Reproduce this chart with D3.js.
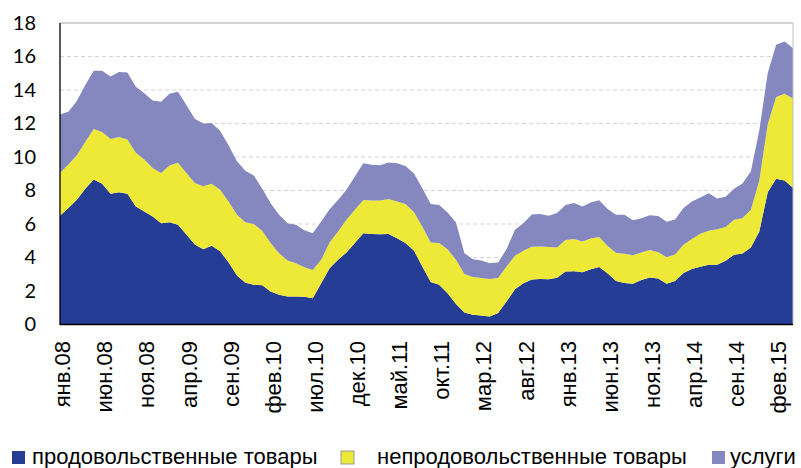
<!DOCTYPE html>
<html>
<head>
<meta charset="utf-8">
<script src="https://cdn.jsdelivr.net/npm/d3@7"></script>
<style>
  body { margin: 0; background: #fff; }
</style>
</head>
<body>
<svg id="chart" width="801" height="468"></svg>
<script>
// monthly, янв.08 .. апр.15 (percent, contribution by group)
const food = [
  6.50, 6.96, 7.45, 8.10, 8.65, 8.40, 7.80, 7.90, 7.80, 7.05, 6.75, 6.45,
  6.05, 6.10, 5.95, 5.37, 4.78, 4.50, 4.70, 4.37, 3.72, 2.93, 2.50, 2.38,
  2.34, 1.97, 1.77, 1.67, 1.67, 1.65, 1.57, 2.47, 3.36, 3.86, 4.30, 4.86,
  5.45, 5.41, 5.39, 5.41, 5.15, 4.86, 4.42, 3.46, 2.54, 2.37, 1.87, 1.23,
  0.72, 0.58, 0.54, 0.48, 0.68, 1.37, 2.11, 2.47, 2.69, 2.71, 2.70, 2.79,
  3.16, 3.18, 3.12, 3.30, 3.43, 3.05, 2.60, 2.48, 2.44, 2.66, 2.80, 2.74,
  2.44, 2.60, 3.08, 3.32, 3.45, 3.56, 3.56, 3.80, 4.16, 4.24, 4.60, 5.55,
  7.90, 8.70, 8.60, 8.17
];
const nonfood = [
  2.55, 2.59, 2.65, 2.80, 3.02, 3.10, 3.28, 3.30, 3.25, 3.20, 3.10, 2.90,
  3.00, 3.40, 3.70, 3.68, 3.67, 3.75, 3.70, 3.68, 3.63, 3.62, 3.60, 3.62,
  3.26, 2.89, 2.49, 2.15, 1.99, 1.77, 1.69, 1.39, 1.54, 1.69, 1.95, 1.99,
  1.99, 1.99, 2.01, 2.09, 2.19, 2.34, 2.29, 2.39, 2.36, 2.49, 2.63, 2.63,
  2.30, 2.25, 2.23, 2.23, 2.09, 2.09, 1.99, 1.93, 1.95, 1.95, 1.93, 1.81,
  1.88, 1.92, 1.83, 1.83, 1.80, 1.63, 1.67, 1.74, 1.70, 1.64, 1.65, 1.58,
  1.58, 1.58, 1.68, 1.78, 1.97, 2.04, 2.12, 2.02, 2.09, 2.11, 2.25, 3.05,
  4.05, 4.88, 5.17, 5.33
];
const services = [
  3.48, 3.15, 3.25, 3.40, 3.48, 3.65, 3.72, 3.87, 4.00, 3.95, 3.95, 4.03,
  4.25, 4.28, 4.25, 4.05, 3.83, 3.75, 3.63, 3.51, 3.35, 3.19, 3.08, 2.90,
  2.50, 2.38, 2.29, 2.23, 2.29, 2.20, 2.19, 2.29, 1.98, 1.89, 1.79, 1.99,
  2.19, 2.13, 2.11, 2.17, 2.29, 2.27, 2.32, 2.29, 2.30, 2.28, 2.19, 2.23,
  1.24, 1.07, 1.05, 0.95, 0.93, 1.04, 1.55, 1.65, 1.93, 1.93, 1.86, 2.05,
  2.10, 2.16, 2.09, 2.16, 2.19, 2.22, 2.28, 2.33, 2.09, 2.05, 2.07, 2.16,
  2.11, 2.09, 2.19, 2.24, 2.16, 2.24, 1.84, 1.80, 1.85, 2.07, 2.28, 3.00,
  3.05, 3.12, 3.13, 3.00
];
// one label every 5 months
const tickLabels = [
  'янв.08', 'июн.08', 'ноя.08', 'апр.09', 'сен.09', 'фев.10', 'июл.10',
  'дек.10', 'май.11', 'окт.11', 'мар.12', 'авг.12', 'янв.13', 'июн.13',
  'ноя.13', 'апр.14', 'сен.14', 'фев.15'
];
const tickStep = 5;
const yTicks = [0, 2, 4, 6, 8, 10, 12, 14, 16, 18];
const seriesNames = ['продовольственные товары', 'непродовольственные товары', 'услуги'];
const keys = ['food', 'nonfood', 'services'];
const colors = ['#253d94', '#eee936', '#8488bf'];

const svg = d3.select('#chart');

const plotLeft = 60, plotRight = 793, plotTop = 23, plotBottom = 324.5;

const rows = food.map((d, i) => ({
  i: i,
  food: d,
  nonfood: nonfood[i],
  services: services[i]
}));

const x = d3.scaleLinear().domain([0, rows.length - 1]).range([plotLeft, plotRight]);
const y = d3.scaleLinear().domain([0, 18]).range([plotBottom, plotTop]);

// dashed grid
svg.append('g')
  .selectAll('line')
  .data(yTicks.filter(t => t > 0 && t < 18))
  .enter().append('line')
    .attr('x1', plotLeft).attr('x2', plotRight)
    .attr('y1', d => y(d)).attr('y2', d => y(d))
    .attr('stroke', '#d4d4d4')
    .attr('stroke-width', 1)
    .attr('stroke-dasharray', '4,3');

let stacked = d3.stack().keys(keys)(rows);

let area = d3.area()
  .x(d => x(d.data.i))
  .y0(d => y(d[0]))
  .y1(d => y(d[1]));

svg.append('g')
  .selectAll('path')
  .data(stacked)
  .enter().append('path')
    .attr('d', area)
    .attr('fill', (d, i) => colors[i]);

// plot frame
svg.append('line')
  .attr('x1', plotLeft).attr('x2', plotRight)
  .attr('y1', y(18)).attr('y2', y(18))
  .attr('stroke', '#a6a6a6').attr('stroke-width', 1);
svg.append('line')
  .attr('x1', plotRight).attr('x2', plotRight)
  .attr('y1', y(18)).attr('y2', y(0))
  .attr('stroke', '#bfbfbf').attr('stroke-width', 1);
svg.append('line')
  .attr('x1', plotLeft).attr('x2', plotLeft)
  .attr('y1', y(18)).attr('y2', y(0) + 0.5)
  .attr('stroke', '#000').attr('stroke-width', 1.3);
svg.append('line')
  .attr('x1', plotLeft).attr('x2', plotRight)
  .attr('y1', y(0)).attr('y2', y(0))
  .attr('stroke', '#000').attr('stroke-width', 1.3);

// y labels
let yAxis = svg.append('g')
  .attr('transform', 'translate(' + plotLeft + ',0)')
  .call(d3.axisLeft(y).tickValues(yTicks).tickSize(0).tickPadding(24));
yAxis.select('.domain').remove();
yAxis.selectAll('text')
  .attr('font-family', 'Lato, "Open Sans", sans-serif')
  .attr('font-size', 20)
  .attr('fill', '#000');

// x labels, rotated
svg.append('g')
  .selectAll('text')
  .data(tickLabels)
  .enter().append('text')
    .attr('transform', (d, i) => 'translate(' + (x(i * tickStep) + 2.5) + ',341) rotate(-90)')
    .attr('text-anchor', 'end')
    .attr('dy', '0.35em')
    .attr('font-family', '"Liberation Sans", Arial, sans-serif')
    .attr('font-size', 22)
    .attr('fill', '#000')
    .text(d => d);

// legend
const legendX = [12, 341, 712];
const legendGap = [20, 36, 18];
let legend = svg.append('g')
  .selectAll('g')
  .data(seriesNames)
  .enter().append('g')
    .attr('transform', (d, i) => 'translate(' + legendX[i] + ',451)');

legend.append('rect')
  .attr('width', 13).attr('height', 13)
  .attr('fill', (d, i) => colors[i])
  .attr('stroke', (d, i) => i === 1 ? '#9a9a9a' : 'none')
  .attr('stroke-width', 1);

legend.append('text')
  .attr('x', (d, i) => legendGap[i])
  .attr('y', 13)
  .attr('font-family', '"Liberation Sans", Arial, sans-serif')
  .attr('font-size', 22)
  .attr('fill', '#000')
  .text(d => d);
</script>
</body>
</html>
